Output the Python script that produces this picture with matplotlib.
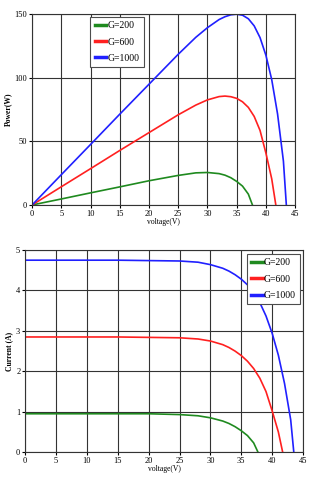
import matplotlib
matplotlib.use('Agg')
import matplotlib.pyplot as plt

# Curve data (voltage in V, current in A, power in W)
#-----------------------------------------------------------------------------#
labels = ['G=200', 'G=600', 'G=1000']
colors = ['#1f8a1f', '#ff2020', '#2020ff']

V_200 = [0, 5, 10, 15, 20, 25, 28, 30, 32, 33, 34, 35, 36, 37, 37.7]
I_200 = [0.95, 0.95, 0.95, 0.95, 0.95, 0.93, 0.90, 0.85, 0.77, 0.71, 0.63, 0.53, 0.41, 0.23, 0.0]
P_200 = [0, 4.7, 9.5, 14.2, 19.0, 23.2, 25.2, 25.5, 24.6, 23.4, 21.4, 18.5, 14.8, 8.5, 0]

V_600 = [0, 5, 10, 15, 20, 25, 28, 30, 32, 33, 34, 35, 36, 37, 38, 39, 40, 41, 41.7]
I_600 = [2.85, 2.85, 2.85, 2.85, 2.84, 2.83, 2.80, 2.75, 2.66, 2.59, 2.50, 2.39,
         2.25, 2.07, 1.83, 1.50, 1.02, 0.50, 0.0]
P_600 = [0, 14.3, 28.5, 42.8, 56.8, 70.8, 78.4, 82.5, 85.1, 85.5, 85.0, 83.7,
         81.0, 76.6, 69.5, 58.5, 40.8, 20.5, 0]

V_1000 = [0, 5, 10, 15, 20, 25, 28, 30, 32, 33, 34, 35, 36, 37, 38, 39, 40, 41, 42, 43, 43.5]
I_1000 = [4.75, 4.75, 4.75, 4.75, 4.74, 4.73, 4.70, 4.64, 4.55, 4.48, 4.39, 4.28,
          4.14, 3.95, 3.70, 3.37, 2.94, 2.40, 1.70, 0.80, 0.0]
P_1000 = [0, 23.8, 47.5, 71.3, 94.8, 118.3, 131.6, 139.2, 145.6, 147.8, 149.3, 149.8,
          149.0, 146.2, 140.6, 131.4, 117.6, 98.4, 71.4, 34.4, 0]

V_all = [V_200, V_600, V_1000]
I_all = [I_200, I_600, I_1000]
P_all = [P_200, P_600, P_1000]

x_ticks = [0, 5, 10, 15, 20, 25, 30, 35, 40, 45]
p_ticks = [0, 50, 100, 150]
i_ticks = [0, 1, 2, 3, 4, 5]

serif = ['Liberation Serif', 'DejaVu Serif']
plt.rcParams['font.family'] = serif


def style_axes(ax, yticks, ylabel):
    ax.set_xlim(0, 45)
    ax.set_ylim(yticks[0], yticks[-1])
    ax.set_xticks(x_ticks)
    ax.set_yticks(yticks)
    ax.tick_params(axis='both', labelsize=6, length=2, pad=1.5)
    ax.grid(True, color='0.2', linewidth=0.8)
    ax.set_axisbelow(True)
    for s in ax.spines.values():
        s.set_color('0.2')
        s.set_linewidth(0.8)
    ax.set_xlabel('voltage(V)', fontsize=5.5, labelpad=0)
    ax.set_ylabel(ylabel, fontsize=5.5, fontweight='bold', labelpad=2)


def style_legend(leg):
    leg.get_frame().set_edgecolor('0.3')
    leg.get_frame().set_linewidth(0.8)
    for h in leg.get_lines():
        h.set_linewidth(2.5)


leg_kw = dict(fontsize=7, handlelength=1.2, handletextpad=0.1, borderpad=0.45,
              labelspacing=0.75, fancybox=False, framealpha=1, borderaxespad=0.3)

fig = plt.figure(figsize=(3.18, 4.80), dpi=100)

# Power vs voltage
#-----------------------------------------------------------------------------#
ax1 = fig.add_axes([0.101, 0.573, 0.827, 0.398])
for v, p, c, l in zip(V_all, P_all, colors, labels):
    ax1.plot(v, p, color=c, linewidth=1.2, label=l)
style_axes(ax1, p_ticks, 'Power(W)')
leg1 = ax1.legend(loc='upper left', bbox_to_anchor=(0.21, 1.0), **leg_kw)
style_legend(leg1)

# Current vs voltage
#-----------------------------------------------------------------------------#
ax2 = fig.add_axes([0.079, 0.058, 0.874, 0.421])
for v, i, c, l in zip(V_all, I_all, colors, labels):
    ax2.plot(v, i, color=c, linewidth=1.2, label=l)
style_axes(ax2, i_ticks, 'Current (A)')
leg2 = ax2.legend(loc='upper right', bbox_to_anchor=(1.0, 0.995), **leg_kw)
style_legend(leg2)

fig.savefig('out.png', dpi=100)
